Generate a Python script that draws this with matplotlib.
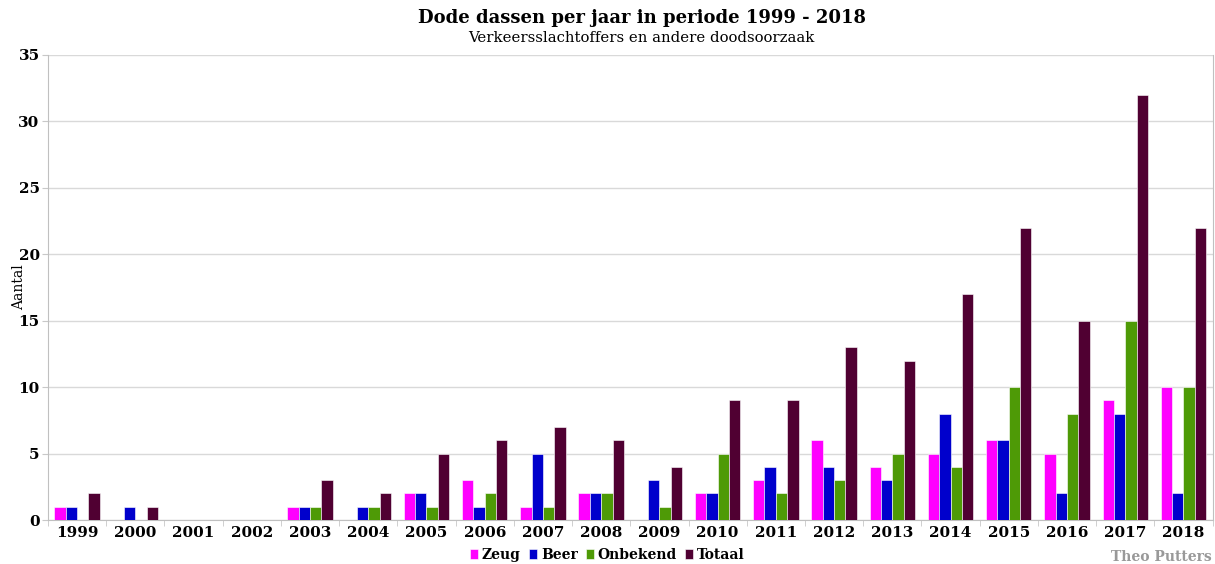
import matplotlib
matplotlib.use("Agg")
import matplotlib.pyplot as plt
import numpy as np
from matplotlib.ticker import FixedLocator

years = ["1999", "2000", "2001", "2002", "2003", "2004", "2005", "2006", "2007", "2008",
         "2009", "2010", "2011", "2012", "2013", "2014", "2015", "2016", "2017", "2018"]
zeug = [1, 0, 0, 0, 1, 0, 2, 3, 1, 2, 0, 2, 3, 6, 4, 5, 6, 5, 9, 10]
beer = [1, 1, 0, 0, 1, 1, 2, 1, 5, 2, 3, 2, 4, 4, 3, 8, 6, 2, 8, 2]
onbekend = [0, 0, 0, 0, 1, 1, 1, 2, 1, 2, 1, 5, 2, 3, 5, 4, 10, 8, 15, 10]
totaal = [2, 1, 0, 0, 3, 2, 5, 6, 7, 6, 4, 9, 9, 13, 12, 17, 22, 15, 32, 22]

series = [("Zeug", zeug, "#ff00ff"), ("Beer", beer, "#0000cc"),
          ("Onbekend", onbekend, "#4e9a06"), ("Totaal", totaal, "#500032")]

plt.rcParams['font.family'] = ['DejaVu Serif']

fig = plt.figure(figsize=(12.15, 5.64), dpi=100)
ax = fig.add_axes([0.0395, 0.078, 0.9585, 0.8245])

x = np.arange(len(years))
w = 0.195
for i, (name, vals, col) in enumerate(series):
    ax.bar(x + (i - 1.5) * w, vals, width=w, color=col, edgecolor="white",
           linewidth=0.4, label=name, zorder=3)

ax.set_xlim(-0.5, len(years) - 0.5)
ax.set_ylim(0, 35)
ax.set_yticks(range(0, 36, 5))
ax.set_xticks(x)
ax.set_xticklabels(years, fontweight="bold", fontsize=11)
ax.tick_params(axis="x", length=0, pad=4)
ax.xaxis.set_minor_locator(FixedLocator(np.arange(-0.5, len(years), 1)))
ax.tick_params(axis="x", which="minor", length=4, color="#c8c8c8")
for lab in ax.get_yticklabels():
    lab.set_fontweight("bold")
    lab.set_fontsize(11)
ax.tick_params(axis="y", length=4, color="#c8c8c8", pad=2)
ax.grid(axis="y", color="#d9d9d9", linewidth=1, zorder=0)
ax.spines["top"].set_visible(False)
for s in ["left", "bottom", "right"]:
    ax.spines[s].set_color("#c0c0c0")
ax.set_ylabel("Aantal", fontsize=10)
ax.yaxis.set_label_coords(-0.019, 0.5)

fig.text(0.528, 0.968, "Dode dassen per jaar in periode 1999 - 2018", ha="center",
         va="center", fontsize=13, fontweight="bold")
fig.text(0.528, 0.932, "Verkeersslachtoffers en andere doodsoorzaak", ha="center",
         va="center", fontsize=10.7)

leg = fig.legend(loc="center", bbox_to_anchor=(0.5, 0.016), ncol=4, frameon=False,
                 prop={"weight": "bold", "size": 10}, handlelength=0.55,
                 handleheight=0.75, handletextpad=0.3, columnspacing=0.6)
fig.text(0.997, 0.012, "Theo Putters", ha="right", va="center", fontsize=10,
         fontweight="bold", color="#999999")

fig.savefig("out.png", dpi=100)
